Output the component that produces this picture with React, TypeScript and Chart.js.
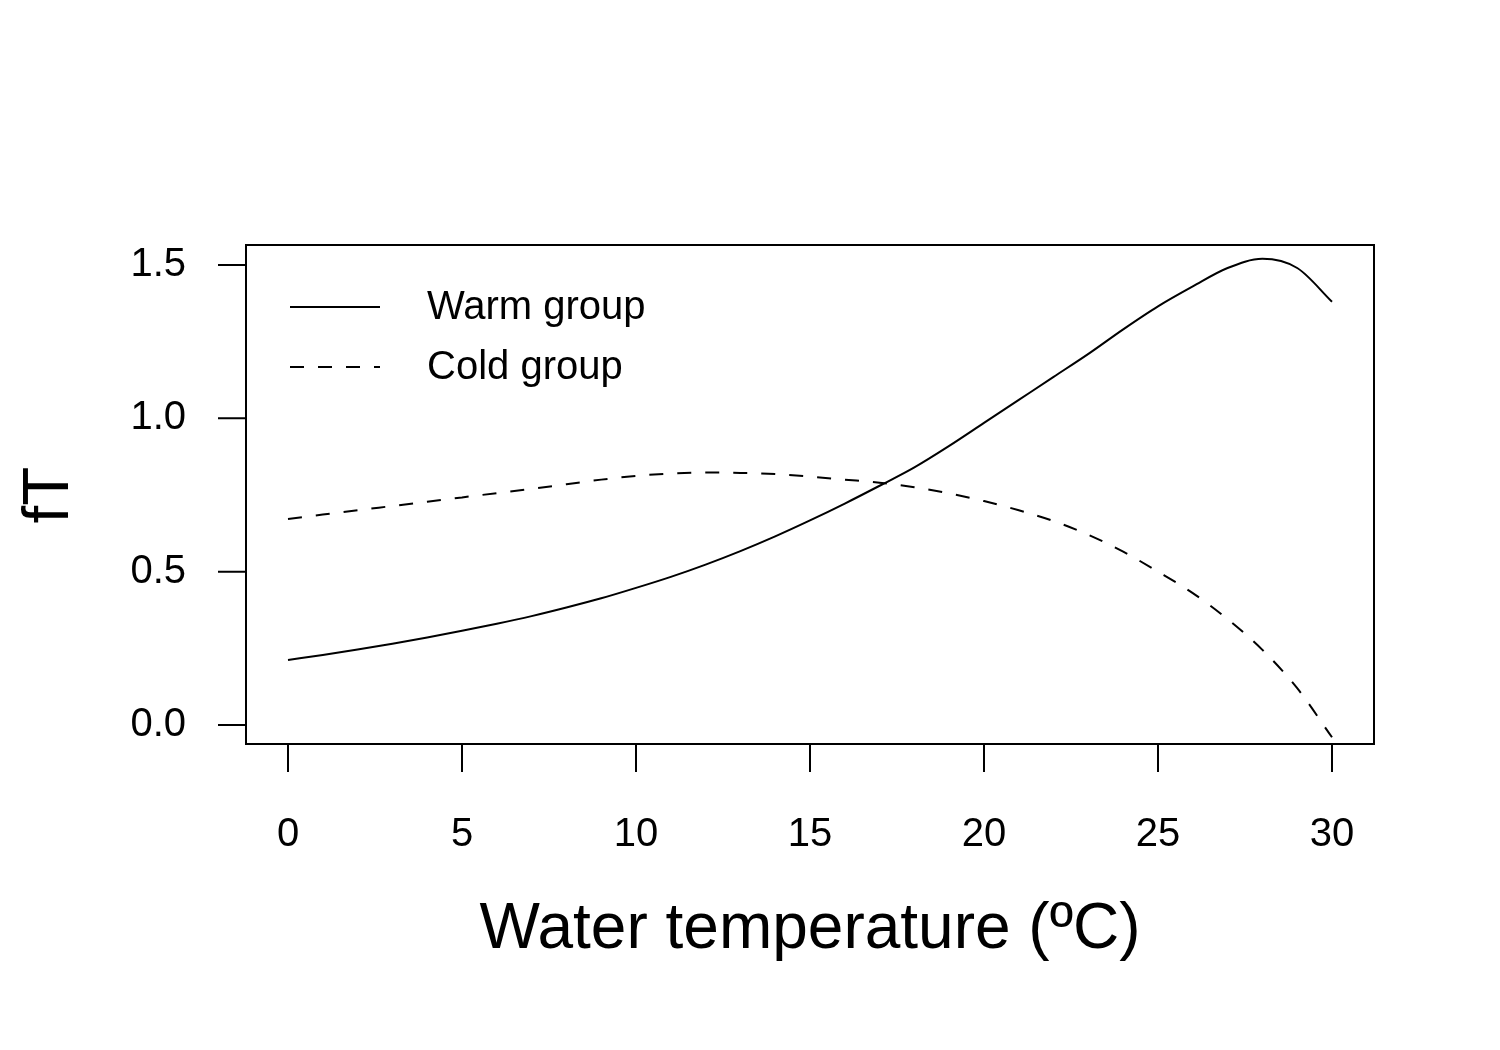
import { useEffect, useRef } from "react";
import Chart from "chart.js/auto";

const temps = Array.from({ length: 31 }, (_, i) => i);
const warmGroup = [
  0.212, 0.228, 0.246, 0.265, 0.285, 0.307, 0.33, 0.355, 0.383, 0.413, 0.447,
  0.483, 0.523, 0.567, 0.615, 0.667, 0.722, 0.78, 0.84, 0.91, 0.985, 1.06,
  1.135, 1.21, 1.29, 1.365, 1.43, 1.49, 1.52, 1.49, 1.38,
];
const coldGroup = [
  0.672, 0.686, 0.7, 0.714, 0.728, 0.742, 0.756, 0.77, 0.785, 0.8, 0.812,
  0.82, 0.823, 0.822, 0.818, 0.81, 0.8, 0.79, 0.775, 0.755, 0.73, 0.7, 0.665,
  0.62, 0.565, 0.5, 0.43, 0.345, 0.245, 0.12, -0.04,
];
const xTicks = [0, 5, 10, 15, 20, 25, 30];
const yTicks = [0, 0.5, 1.0, 1.5];

const FONT = "Liberation Sans, Arial, sans-serif";

const App = () => {
  const canvasRef = useRef<HTMLCanvasElement>(null);

  useEffect(() => {
    if (!canvasRef.current) return;
    const chart = new Chart(canvasRef.current, {
      type: "line",
      data: {
        labels: temps,
        datasets: [
          {
            label: "Warm group",
            data: temps.map((t, i) => ({ x: t, y: warmGroup[i] })),
            borderColor: "#000",
            borderWidth: 2,
            pointRadius: 0,
            cubicInterpolationMode: "monotone",
          },
          {
            label: "Cold group",
            data: temps.map((t, i) => ({ x: t, y: coldGroup[i] })),
            borderColor: "#000",
            borderWidth: 2,
            borderDash: [14, 14],
            pointRadius: 0,
            cubicInterpolationMode: "monotone",
          },
        ],
      },
      options: {
        animation: false,
        responsive: false,
        layout: { padding: { left: 246, right: 126, top: 245, bottom: 306 } },
        plugins: { legend: { display: false }, tooltip: { enabled: false } },
        scales: {
          x: { type: "linear", min: -1.207, max: 31.207, display: false },
          y: { type: "linear", min: -0.062, max: 1.565, display: false },
        },
      },
      plugins: [
        {
          id: "rAxes",
          afterDraw: (c) => {
            const ctx = c.ctx;
            const { left, right, top, bottom } = c.chartArea;
            const xs = c.scales.x;
            const ys = c.scales.y;
            ctx.save();
            ctx.strokeStyle = "#000";
            ctx.fillStyle = "#000";
            ctx.lineWidth = 2;
            ctx.setLineDash([]);
            ctx.strokeRect(left, top, right - left, bottom - top);
            // x axis
            ctx.beginPath();
            ctx.moveTo(xs.getPixelForValue(0), bottom);
            ctx.lineTo(xs.getPixelForValue(30), bottom);
            xTicks.forEach((t) => {
              const px = xs.getPixelForValue(t);
              ctx.moveTo(px, bottom);
              ctx.lineTo(px, bottom + 28);
            });
            // y axis
            ctx.moveTo(left, ys.getPixelForValue(0));
            ctx.lineTo(left, ys.getPixelForValue(1.5));
            yTicks.forEach((t) => {
              const py = ys.getPixelForValue(t);
              ctx.moveTo(left, py);
              ctx.lineTo(left - 28, py);
            });
            ctx.stroke();
            ctx.font = `40px ${FONT}`;
            ctx.textAlign = "center";
            ctx.textBaseline = "middle";
            xTicks.forEach((t) => {
              ctx.fillText(String(t), xs.getPixelForValue(t), 835);
            });
            ctx.textAlign = "right";
            yTicks.forEach((t) => {
              ctx.fillText(t.toFixed(1), 186, ys.getPixelForValue(t));
            });
            // titles
            ctx.font = `64px ${FONT}`;
            ctx.textAlign = "center";
            ctx.fillText("Water temperature (ºC)", 810, 930);
            ctx.save();
            ctx.translate(50, 495);
            ctx.rotate(-Math.PI / 2);
            ctx.fillText("fT", 0, 0);
            ctx.restore();
            // legend
            ctx.font = `40px ${FONT}`;
            ctx.textAlign = "left";
            ctx.beginPath();
            ctx.moveTo(290, 307);
            ctx.lineTo(380, 307);
            ctx.stroke();
            ctx.setLineDash([14, 14]);
            ctx.beginPath();
            ctx.moveTo(290, 367);
            ctx.lineTo(380, 367);
            ctx.stroke();
            ctx.fillText("Warm group", 427, 308);
            ctx.fillText("Cold group", 427, 368);
            ctx.restore();
          },
        },
      ],
    });
    return () => chart.destroy();
  }, []);

  return (
    <div style={{ position: "absolute", left: 0, top: 0, background: "#fff" }}>
      <canvas ref={canvasRef} width={1500} height={1050} />
    </div>
  );
};

export default App;
